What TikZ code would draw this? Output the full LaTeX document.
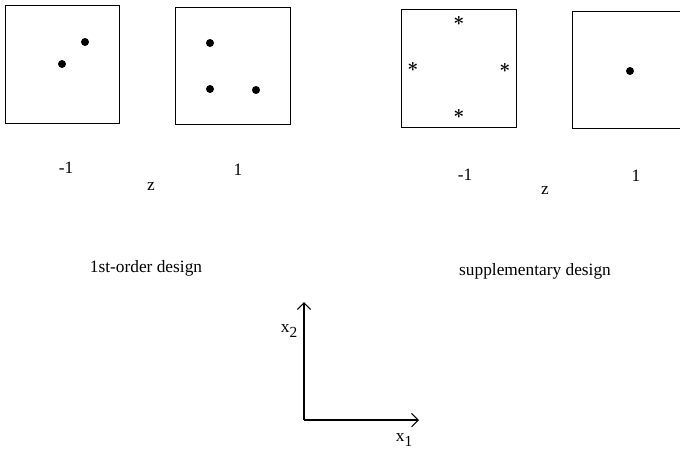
\documentclass[tikz,border=0pt]{standalone}
\usepackage{amsmath}
\usepackage{fontspec}
\setmainfont{Liberation Serif}
\usepackage{tikz}
\usetikzlibrary{positioning,arrows.meta}
\tikzset{
  panel/.style={rectangle, draw=black, line width=0.8pt, fill=white,
                minimum width=86pt, minimum height=88pt, inner sep=0pt},
  pt/.style={circle, fill=black, minimum size=6pt, inner sep=0pt},
  star/.style={inner sep=0pt, font=\Large},
  lbl/.style={font=\fontsize{13}{15}\selectfont, inner sep=0pt},
  axis/.style={-{Straight Barb[length=5pt,width=10pt]}, line width=0.8pt},
}
\newcommand{\lowsub}[1]{\raisebox{-0.55ex}{\fontsize{11.5}{13}\selectfont #1}}
\begin{document}
\begin{tikzpicture}[x=0.75pt,y=-0.75pt]
  \useasboundingbox (0,0) rectangle (680,461);
  \clip (0,0) rectangle (680,461);

  % --- first-order design panels ---
  \node[panel] (fa) at (62.5,64.5) {};
  \node[panel] (fb) at (233,66) {};
  \node[pt] (fa1) at (85,42) {};
  \node[pt] (fa2) at (62,64) {};
  \node[pt] (fb1) at (210,43) {};
  \node[pt] (fb2) at (210,89) {};
  \node[pt] (fb3) at (256,90) {};
  \node[lbl] (fam) at (66,168) {-1};
  \node[lbl] (fbp) at (238,170) {1};
  \node[lbl] (fz) at (151,187) {z};
  \node[lbl] (ftitle) at (146,268) {1st-order design};

  % --- supplementary design panels ---
  \node[panel] (sa) at (459,68.5) {};
  \node[panel] (sb) at (629.5,70) {};
  \node[star] (sa1) at (459,21) {$\boldsymbol{\ast}$};
  \node[star] (sa2) at (413,67) {$\boldsymbol{\ast}$};
  \node[star] (sa3) at (505,68) {$\boldsymbol{\ast}$};
  \node[star] (sa4) at (459,114) {$\boldsymbol{\ast}$};
  \node[pt] (sb1) at (630,71) {};
  \node[lbl] (sam) at (465,175) {-1};
  \node[lbl] (sbp) at (636,176) {1};
  \node[lbl] (sz) at (545,191) {z};
  \node[lbl] (stitle) at (535,271) {supplementary design};

  % --- axes ---
  \coordinate (o) at (304,420);
  \coordinate (ytip) at (304,302);
  \coordinate (xtip) at (419,420);
  \draw[axis] (o) -- (ytip);
  \draw[axis] (o) -- (xtip);
  \node[lbl] (x2) at (289,331) {x\lowsub{2}};
  \node[lbl] (x1) at (404,440) {x\lowsub{1}};
\end{tikzpicture}
\end{document}
